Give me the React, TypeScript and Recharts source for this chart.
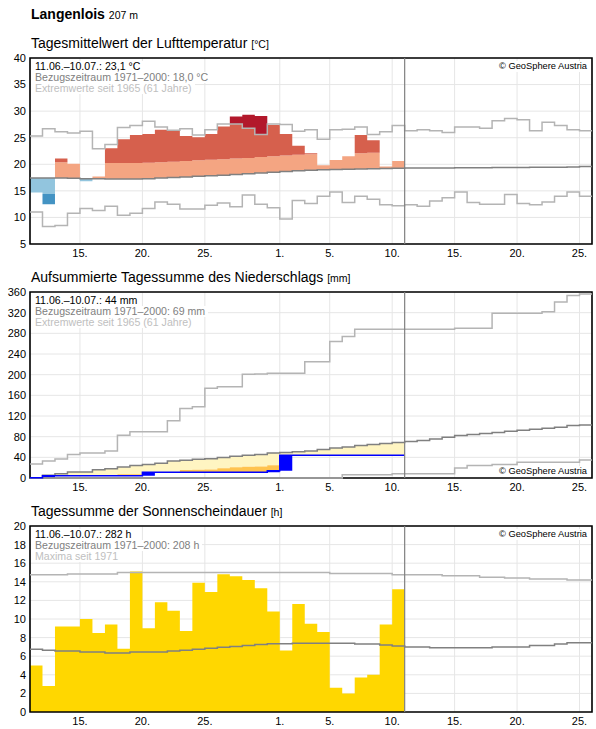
import React from 'react';
import {
  ComposedChart,
  Area,
  Line,
  XAxis,
  YAxis,
  CartesianGrid,
  ReferenceLine,
  ReferenceArea,
} from 'recharts';

// ---------- axis / category data ----------
const xTickPositions = [4, 9, 14, 20, 24, 29, 34, 39, 44];
const xTickLabels = ['15.', '20.', '25.', '1.', '5.', '10.', '15.', '20.', '25.'];
const tempTicks = [5, 10, 15, 20, 25, 30, 35, 40];
const precipTicks = [0, 40, 80, 120, 160, 200, 240, 280, 320, 360];
const sunTicks = [0, 2, 4, 6, 8, 10, 12, 14, 16, 18, 20];

// ---------- temperature (°C), 11.06.–10.07. observed, 11.06.–25.07. climate ----------
const tempObs = [14.7, 12.5, 21.1, 20.1, 16.8, 17.7, 23.0, 24.7, 25.5, 25.7, 26.5, 26.4, 25.3, 25.1, 25.7,
  27.1, 29.0, 29.3, 29.1, 27.4, 25.7, 23.5, 22.1, 19.8, 20.8, 21.5, 25.5, 24.5, 19.6, 20.6];
const tempMean = [17.4, 17.4, 17.4, 17.35, 17.3, 17.3, 17.25, 17.25, 17.25, 17.3, 17.4, 17.5, 17.6, 17.75, 17.85,
  17.95, 18.1, 18.2, 18.35, 18.5, 18.65, 18.8, 18.9, 18.95, 19.0, 19.05, 19.1, 19.15, 19.2, 19.25,
  19.3, 19.3, 19.3, 19.3, 19.35, 19.35, 19.35, 19.4, 19.4, 19.4, 19.45, 19.45, 19.45, 19.5, 19.6];
const tempRecMax = [25.3, 26.7, 26.1, 25.9, 26.2, 22.9, 23.7, 26.9, 27.3, 28.1, 27.0, 26.4, 26.7, 25.5, 26.5,
  27.6, 27.6, 26.8, 25.6, 27.6, 27.5, 26.2, 26.5, 24.7, 26.5, 26.6, 27.0, 25.6, 26.1, 27.3,
  26.3, 26.5, 26.3, 26.0, 27.0, 27.0, 26.8, 28.2, 28.6, 28.4, 26.3, 27.9, 27.3, 26.5, 26.3];
const tempRecMin = [11.0, 8.3, 8.5, 10.8, 11.7, 11.3, 12.1, 10.4, 10.8, 11.7, 12.9, 12.5, 11.6, 11.6, 12.3,
  12.7, 12.0, 14.2, 12.5, 11.8, 9.7, 13.2, 12.6, 14.0, 14.8, 12.8, 14.0, 13.4, 12.4, 12.2,
  12.4, 12.1, 13.1, 13.7, 14.8, 12.8, 12.5, 12.5, 14.3, 12.6, 12.4, 12.9, 14.0, 14.8, 14.0];

// ---------- precipitation (mm) ----------
const precipDaily = [0.5, 4, 0, 0, 0, 0, 0, 0, 0, 6.5, 0, 0, 0, 0, 0,
  0, 0, 0, 0, 3, 30, 0, 0, 0, 0, 0, 0, 0, 0, 0];
const precipMeanCum = [0.6, 5.2, 8.4, 11.7, 11.7, 16.2, 18.1, 21.4, 24, 26, 28.5, 33, 34.3, 36.2, 37.5,
  39.5, 42, 44, 45.3, 48.5, 49.5, 51, 52.4, 55, 58.3, 60.2, 62.8, 64.7, 66.7, 68.6,
  70.6, 72.5, 75.7, 79, 82.2, 84.1, 86, 88, 90.6, 92.6, 94.5, 96.4, 98.4, 101.6, 102.5];
const precipDryCum = [0, 1, 2, 3, 3.5, 4, 4.5, 7.5, 7.5, 9, 10, 10.5, 15.5, 16, 16.5,
  19, 21, 22, 22.5, 24.5, 25.5, 27, 28, 29, 30, 31, 32, 33, 34, 35];
const precipMaxCum = [27, 33, 37, 45.3, 48.5, 48.5, 52.4, 82.8, 89.3, 89.3, 89.3, 110.7, 134.6, 137.9, 173.5,
  176.7, 176.7, 200.6, 201.3, 202.6, 202.6, 202.6, 225, 225, 264, 273.8, 288, 288, 288, 288,
  288, 288, 288, 288, 290, 290, 290, 319, 319, 319, 319, 322, 340.5, 353.4, 356];
const precipMinCum = [0, 0, 0, 0, 0, 0, 0, 0, 0, 0, 0, 0, 0, 0, 0,
  0, 0, 0, 0, 0, 0, 0, 0, 0, 0, 6.5, 6.5, 6.5, 6.5, 8.4,
  8.4, 8.4, 8.4, 8.4, 19.5, 24, 24, 26, 26, 30.5, 30.5, 30.5, 30.5, 30.5, 35];

// ---------- sunshine (h) ----------
const sunObs = [5.0, 2.8, 9.2, 9.2, 10.0, 8.5, 9.4, 6.8, 15.1, 9.0, 11.8, 10.9, 8.7, 13.9, 12.9,
  14.8, 14.6, 14.2, 13.3, 10.8, 6.6, 11.6, 9.5, 8.6, 2.6, 2.0, 3.7, 4.0, 9.4, 13.2];
const sunMean = [6.75, 6.65, 6.55, 6.55, 6.45, 6.45, 6.35, 6.35, 6.45, 6.45, 6.45, 6.55, 6.65, 6.75, 6.85,
  6.95, 7.05, 7.15, 7.25, 7.35, 7.35, 7.4, 7.4, 7.4, 7.4, 7.4, 7.3, 7.3, 7.2, 7.1,
  7.0, 7.0, 6.9, 6.9, 6.9, 6.9, 6.9, 7.0, 7.0, 7.0, 7.15, 7.15, 7.3, 7.45, 7.45];
const sunMax = [14.75, 14.75, 14.75, 14.85, 14.85, 14.85, 14.85, 15, 15, 15, 15, 15, 15, 15, 15,
  15, 15, 15, 15, 15, 15, 15, 15, 15, 14.9, 14.9, 14.9, 14.9, 14.9, 14.75,
  14.75, 14.75, 14.75, 14.65, 14.65, 14.65, 14.5, 14.5, 14.4, 14.4, 14.3, 14.3, 14.3, 14.2, 14.2];

// ---------- build chart rows ----------
const N_ALL = tempMean.length; // 45 days shown
const N_OBS = tempObs.length; // 30 observed days

const precipCum: number[] = [];
precipDaily.forEach((v, i) => precipCum.push((i > 0 ? precipCum[i - 1] : 0) + v));

type Row = Record<string, any>;
const rows: Row[] = [];
for (let i = 0; i <= N_ALL; i++) {
  const c = Math.min(i, N_ALL - 1);
  const o = i < N_OBS ? i : i === N_OBS ? N_OBS - 1 : -1;
  const r: Row = {
    x: i,
    tMean: tempMean[c],
    tMax: tempRecMax[c],
    tMin: tempRecMin[c],
    pMean: precipMeanCum[c],
    pMax: precipMaxCum[c],
    pMin: precipMinCum[c],
    sMean: sunMean[c],
    sMax: sunMax[c],
  };
  if (o >= 0) {
    const t = tempObs[o];
    const m = tempMean[o];
    const hi = m + 3;
    const lo = m - 3;
    const rec = Math.max(tempRecMax[o], hi);
    r.tSal = t > m ? [m, Math.min(t, hi)] : [m, m];
    r.tRed = t > hi ? [hi, Math.min(t, rec)] : [m, m];
    r.tDark = t > rec ? [rec, t] : [m, m];
    r.tLBlue = t < m ? [Math.max(t, lo), m] : [m, m];
    r.tDBlue = t < lo ? [t, lo] : [m, m];

    const cum = precipCum[o];
    const prev = o > 0 ? precipCum[o - 1] : 0;
    const pm = precipMeanCum[o];
    const dry = precipDryCum[o];
    r.pCum = cum;
    r.pBlue = [prev, cum];
    r.pOrange = cum < dry ? [cum, dry] : [cum, cum];
    const yl = Math.min(Math.max(cum, dry), pm);
    r.pYellow = cum < pm ? [yl, pm] : [cum, cum];

    r.sun = sunObs[o];
  } else {
    r.tSal = null; r.tRed = null; r.tDark = null; r.tLBlue = null; r.tDBlue = null;
    r.pCum = null; r.pBlue = null; r.pOrange = null; r.pYellow = null; r.sun = null;
  }
  rows.push(r);
}

// ---------- layout ----------
const FONT = '"Liberation Sans", Arial, Helvetica, sans-serif';
const W = 596;
const M_TOP = 5;
const PLOT_H = 186;
const XAX_H = 20;
const CH_H = M_TOP + PLOT_H + XAX_H;
const PLOT_TOPS = [58, 292, 526];

const tickStyle = { fontSize: 11, fill: '#000', fontFamily: FONT };
const xFmt = (v: number) => {
  const k = xTickPositions.indexOf(v);
  return k >= 0 ? xTickLabels[k] : '';
};

const GRAY_LIGHT = '#b4b4b4';
const GRAY_DARK = '#808080';

function Frame(props: { top: number; domain: [number, number]; ticks: number[]; children: React.ReactNode }) {
  const { top, domain, ticks, children } = props;
  return (
    <div style={{ position: 'absolute', left: 0, top: top - M_TOP, width: W, height: CH_H }}>
      <ComposedChart width={W} height={CH_H} data={rows} margin={{ top: M_TOP, right: 4, bottom: 0, left: 0 }}>
        <CartesianGrid stroke="#e6e6e6" strokeWidth={1} />
        <XAxis
          type="number"
          dataKey="x"
          domain={[0, N_ALL]}
          ticks={xTickPositions}
          tickFormatter={xFmt}
          interval={0}
          axisLine={false}
          tickLine={false}
          tickSize={0}
          tickMargin={5}
          height={XAX_H}
          tick={tickStyle}
        />
        <YAxis
          type="number"
          domain={domain}
          ticks={ticks}
          interval={0}
          axisLine={false}
          tickLine={false}
          tickSize={0}
          tickMargin={4}
          width={30}
          tick={tickStyle}
        />
        {children}
        <ReferenceLine x={N_OBS} stroke={GRAY_DARK} strokeWidth={1.2} />
        <ReferenceArea x1={0} x2={N_ALL} y1={domain[0]} y2={domain[1]} fill="none" fillOpacity={0} stroke="#000" strokeWidth={1.6} ifOverflow="visible" />
      </ComposedChart>
    </div>
  );
}

const areaProps = { type: 'stepAfter' as const, stroke: 'none', fillOpacity: 1, isAnimationActive: false, connectNulls: false, dot: false, activeDot: false };
const lineProps = { type: 'stepAfter' as const, dot: false, activeDot: false, isAnimationActive: false, connectNulls: false };

function InfoBox(props: { top: number; lines: string[] }) {
  const colors = ['#000', '#808080', '#c0c0c0'];
  return (
    <div style={{ position: 'absolute', left: 31, top: props.top + 3, fontFamily: FONT, fontSize: 10.6, lineHeight: '11px', zIndex: 5 }}>
      {props.lines.map((l, i) => (
        <div key={i} style={{ background: '#fff', color: colors[i], padding: '0 3px 0 4px', width: 'fit-content', whiteSpace: 'nowrap' }}>{l}</div>
      ))}
    </div>
  );
}

function Copyright(props: { top: number }) {
  return (
    <div style={{ position: 'absolute', right: 7, top: props.top, fontFamily: FONT, fontSize: 9.3, lineHeight: '11px', background: '#fff', color: '#000', padding: '0 2px', whiteSpace: 'nowrap', zIndex: 5 }}>
      © GeoSphere Austria
    </div>
  );
}

function Title(props: { top: number; text: string; unit: string }) {
  return (
    <div style={{ position: 'absolute', left: 31, top: props.top, fontFamily: FONT, fontSize: 14, lineHeight: '16px', color: '#000', whiteSpace: 'nowrap' }}>
      {props.text} <span style={{ fontSize: 10.5 }}>{props.unit}</span>
    </div>
  );
}

export default function App() {
  return (
    <div style={{ position: 'absolute', left: 0, top: 0, width: W, height: 729, background: '#fff', overflow: 'hidden' }}>
      <div style={{ position: 'absolute', left: 31, top: 6, fontFamily: FONT, fontSize: 14, lineHeight: '16px', color: '#000', whiteSpace: 'nowrap' }}>
        <b>Langenlois</b> <span style={{ fontSize: 10.5 }}>207 m</span>
      </div>

      <Title top={PLOT_TOPS[0] - 23} text="Tagesmittelwert der Lufttemperatur" unit="[°C]" />
      <Frame top={PLOT_TOPS[0]} domain={[5, 40]} ticks={tempTicks}>
        <Area dataKey="tSal" fill="#f4a582" {...areaProps} />
        <Area dataKey="tRed" fill="#d6604d" {...areaProps} />
        <Area dataKey="tDark" fill="#b2182b" {...areaProps} />
        <Area dataKey="tLBlue" fill="#92c5de" {...areaProps} />
        <Area dataKey="tDBlue" fill="#4393c3" {...areaProps} />
        <Line dataKey="tMax" stroke={GRAY_LIGHT} strokeWidth={1.5} {...lineProps} />
        <Line dataKey="tMin" stroke={GRAY_LIGHT} strokeWidth={1.5} {...lineProps} />
        <Line dataKey="tMean" stroke={GRAY_DARK} strokeWidth={1.5} {...lineProps} />
      </Frame>
      <InfoBox top={PLOT_TOPS[0]} lines={['11.06.–10.07.: 23,1 °C', 'Bezugszeitraum 1971–2000: 18,0 °C', 'Extremwerte seit 1965 (61 Jahre)']} />
      <Copyright top={PLOT_TOPS[0] + 3} />

      <Title top={PLOT_TOPS[1] - 23} text="Aufsummierte Tagessumme des Niederschlags" unit="[mm]" />
      <Frame top={PLOT_TOPS[1]} domain={[0, 360]} ticks={precipTicks}>
        <Area dataKey="pYellow" fill="#fff5c2" {...areaProps} />
        <Area dataKey="pOrange" fill="#ffc34f" {...areaProps} />
        <Area dataKey="pBlue" fill="#0000ff" {...areaProps} />
        <Line dataKey="pMax" stroke={GRAY_LIGHT} strokeWidth={1.5} {...lineProps} />
        <Line dataKey="pMin" stroke={GRAY_LIGHT} strokeWidth={1.5} {...lineProps} />
        <Line dataKey="pMean" stroke={GRAY_DARK} strokeWidth={1.5} {...lineProps} />
        <Line dataKey="pCum" stroke="#0000ff" strokeWidth={1.5} {...lineProps} />
      </Frame>
      <InfoBox top={PLOT_TOPS[1]} lines={['11.06.–10.07.: 44 mm', 'Bezugszeitraum 1971–2000: 69 mm', 'Extremwerte seit 1965 (61 Jahre)']} />
      <Copyright top={PLOT_TOPS[1] + PLOT_H - 12} />

      <Title top={PLOT_TOPS[2] - 23} text="Tagessumme der Sonnenscheindauer" unit="[h]" />
      <Frame top={PLOT_TOPS[2]} domain={[0, 20]} ticks={sunTicks}>
        <Area dataKey="sun" fill="#ffd700" {...areaProps} />
        <Line dataKey="sMax" stroke={GRAY_LIGHT} strokeWidth={1.5} {...lineProps} />
        <Line dataKey="sMean" stroke={GRAY_DARK} strokeWidth={1.5} {...lineProps} />
      </Frame>
      <InfoBox top={PLOT_TOPS[2]} lines={['11.06.–10.07.: 282 h', 'Bezugszeitraum 1971–2000: 208 h', 'Maxima seit 1971']} />
      <Copyright top={PLOT_TOPS[2] + 3} />
    </div>
  );
}
